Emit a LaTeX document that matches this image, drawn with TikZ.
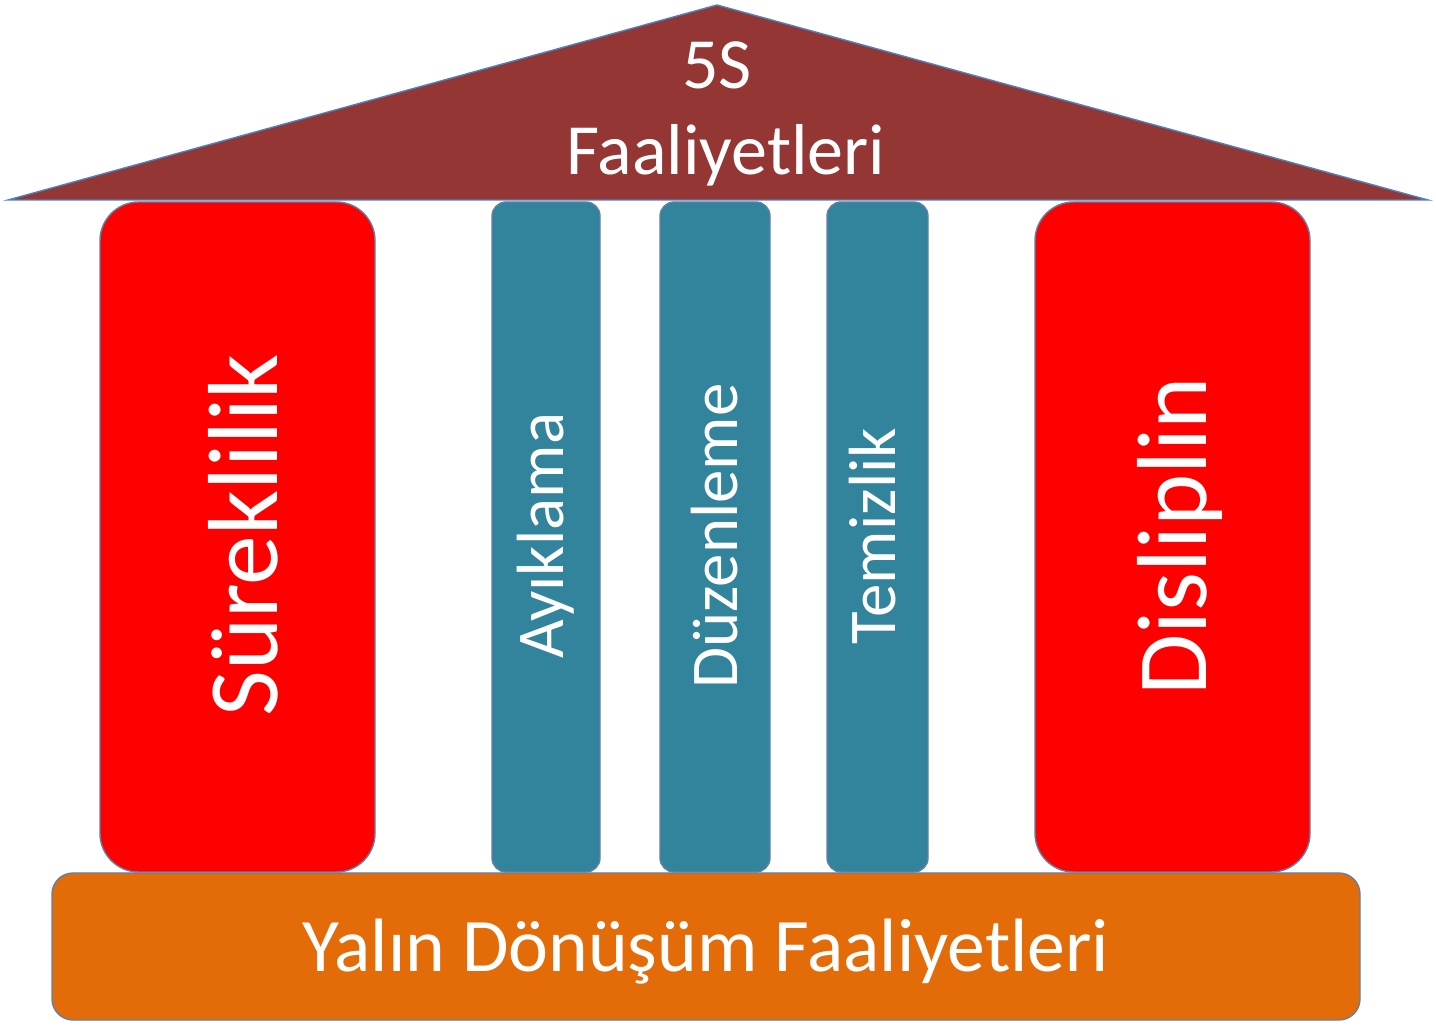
\documentclass[tikz,border=0pt]{standalone}
\usepackage{fontspec}
\setmainfont{Carlito}
\definecolor{roofred}{HTML}{943634}
\definecolor{pillarteal}{HTML}{31849B}
\definecolor{baseorange}{HTML}{E36C09}
\definecolor{edgeblue}{HTML}{4F81BD}
\tikzset{
  bigpillar/.style={draw=edgeblue!60!gray,fill=red,rounded corners=11pt},
  smallpillar/.style={draw=edgeblue!60!gray,fill=pillarteal,rounded corners=4pt},
  pillartext/.style={text=white,rotate=90}
}
\begin{document}
\begin{tikzpicture}[x=0.01cm,y=-0.01cm]
\useasboundingbox (0,0) rectangle (1436,1031);
\draw[edgeblue,fill=roofred] (8,200) -- (717,5) -- (1428,200) -- cycle;
\node[text=white,font=\fontsize{20.5}{24}\selectfont] (ss) at (717,65) {5S};
\node[text=white,font=\fontsize{20.5}{24}\selectfont] (faal) at (726,155) {Faaliyetleri};

\draw[bigpillar] (100,202) rectangle (375,872);
\draw[smallpillar] (492,202) rectangle (600,872);
\draw[smallpillar] (660,202) rectangle (770,872);
\draw[smallpillar] (827,202) rectangle (928,872);
\draw[bigpillar] (1035,202) rectangle (1310,872);

\node[pillartext,font=\fontsize{28.3}{32}\selectfont] (surek) at (243,535) {Süreklilik};
\node[pillartext,font=\fontsize{19}{22}\selectfont] (ayik) at (546,536) {Ayıklama};
\node[pillartext,font=\fontsize{19}{22}\selectfont] (duzen) at (715,536) {Düzenleme};
\node[pillartext,font=\fontsize{19}{22}\selectfont] (temiz) at (873,536) {Temizlik};
\node[pillartext,font=\fontsize{28.3}{32}\selectfont] (disip) at (1180,536) {Disliplin};

\draw[draw=edgeblue!60!gray,fill=baseorange,rounded corners=6pt] (52,873) rectangle (1360,1020);
\node[text=white,font=\fontsize{21.5}{25}\selectfont] (yalin) at (706,952) {Yalın Dönüşüm Faaliyetleri};
\end{tikzpicture}
\end{document}
